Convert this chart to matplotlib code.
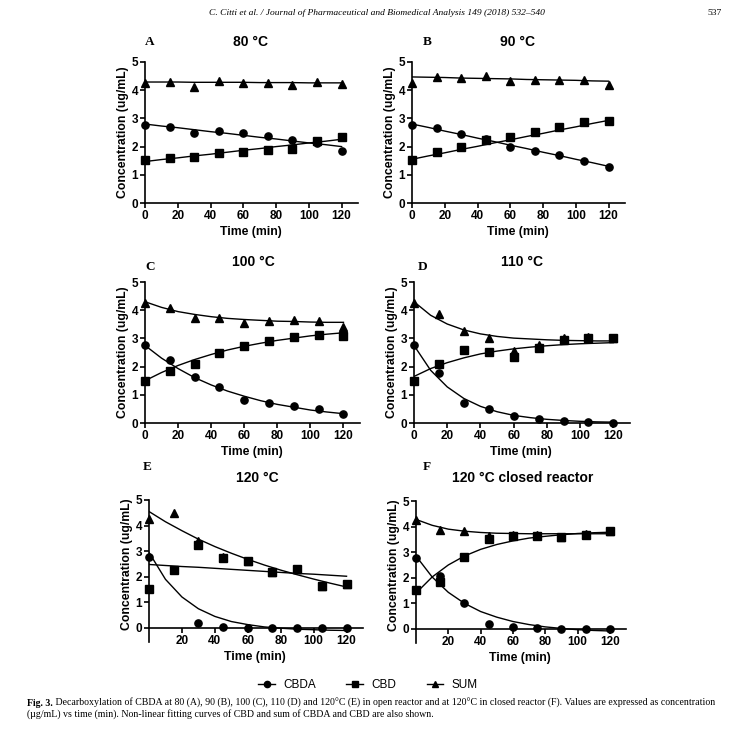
import matplotlib.pyplot as plt
from matplotlib.lines import Line2D

# sampling times (min)
time = [0, 15, 30, 45, 60, 75, 90, 105, 120]
fit_time = [0, 10, 20, 30, 40, 50, 60, 70, 80, 90, 100, 110, 120]

# A - 80 °C
cbda_80 = [2.75, 2.69, 2.49, 2.55, 2.47, 2.36, 2.25, 2.12, 1.86]
cbd_80 = [1.52, 1.60, 1.62, 1.76, 1.82, 1.87, 1.93, 2.20, 2.35]
sum_80 = [4.25, 4.30, 4.10, 4.31, 4.27, 4.25, 4.18, 4.30, 4.22]
cbda_80_fit = [2.80, 2.73, 2.67, 2.60, 2.53, 2.47, 2.40, 2.33, 2.27, 2.20, 2.13, 2.07, 2.00]
cbd_80_fit = [1.47, 1.54, 1.60, 1.67, 1.73, 1.80, 1.87, 1.93, 2.00, 2.06, 2.13, 2.19, 2.26]
sum_80_fit = [4.29, 4.29, 4.29, 4.28, 4.28, 4.28, 4.28, 4.27, 4.27, 4.27, 4.26, 4.26, 4.26]

# B - 90 °C
cbda_90 = [2.76, 2.66, 2.45, 2.28, 2.00, 1.84, 1.69, 1.50, 1.27]
cbd_90 = [1.52, 1.81, 2.00, 2.24, 2.35, 2.52, 2.68, 2.86, 2.91]
sum_90 = [4.25, 4.47, 4.43, 4.50, 4.32, 4.35, 4.35, 4.35, 4.17]
cbda_90_fit = [2.80, 2.68, 2.55, 2.43, 2.30, 2.18, 2.05, 1.93, 1.80, 1.68, 1.55, 1.43, 1.30]
cbd_90_fit = [1.55, 1.67, 1.78, 1.90, 2.01, 2.13, 2.24, 2.36, 2.47, 2.59, 2.70, 2.82, 2.93]
sum_90_fit = [4.47, 4.46, 4.45, 4.43, 4.42, 4.41, 4.40, 4.38, 4.37, 4.36, 4.35, 4.33, 4.32]

# C - 100 °C
cbda_100 = [2.75, 2.24, 1.62, 1.27, 0.82, 0.72, 0.60, 0.48, 0.32]
cbd_100 = [1.50, 1.85, 2.08, 2.47, 2.74, 2.90, 3.04, 3.13, 3.08]
sum_100 = [4.27, 4.08, 3.72, 3.72, 3.55, 3.60, 3.65, 3.62, 3.42]
cbda_100_fit = [2.75, 2.30, 1.93, 1.61, 1.35, 1.13, 0.95, 0.79, 0.66, 0.56, 0.46, 0.39, 0.33]
cbd_100_fit = [1.50, 1.79, 2.04, 2.25, 2.43, 2.59, 2.72, 2.83, 2.93, 3.01, 3.09, 3.15, 3.20]
sum_100_fit = [4.30, 4.10, 3.95, 3.85, 3.77, 3.71, 3.67, 3.64, 3.61, 3.60, 3.58, 3.57, 3.57]

# D - 110 °C
cbda_110 = [2.75, 1.78, 0.72, 0.48, 0.25, 0.15, 0.06, 0.03, 0.00]
cbd_110 = [1.50, 2.10, 2.58, 2.52, 2.33, 2.65, 2.95, 3.03, 3.00]
sum_110 = [4.27, 3.88, 3.28, 3.03, 2.55, 2.78, 3.00, 3.05, 3.00]
cbda_110_fit = [2.75, 1.87, 1.28, 0.87, 0.59, 0.40, 0.27, 0.19, 0.13, 0.09, 0.06, 0.04, 0.03]
cbd_110_fit = [1.65, 1.93, 2.14, 2.31, 2.45, 2.55, 2.63, 2.69, 2.74, 2.78, 2.81, 2.83, 2.85]
sum_110_fit = [4.30, 3.82, 3.51, 3.30, 3.16, 3.07, 3.01, 2.98, 2.95, 2.93, 2.92, 2.91, 2.91]

# E - 120 °C
cbda_120 = [2.78, 2.25, 0.18, 0.03, 0.00, 0.00, 0.00, 0.00, 0.00]
cbd_120 = [1.52, 2.25, 3.25, 2.73, 2.62, 2.17, 2.30, 1.62, 1.70]
sum_120 = [4.27, 4.50, 3.38, 2.76, 2.62, 2.17, 2.30, 1.62, 1.70]
cbda_120_fit = [2.95, 1.90, 1.21, 0.75, 0.45, 0.25, 0.13, 0.04, -0.01, -0.05, -0.07, -0.09, -0.10]
cbd_120_fit = [2.48, 2.44, 2.40, 2.37, 2.33, 2.29, 2.25, 2.21, 2.17, 2.13, 2.10, 2.06, 2.02]
sum_120_fit = [4.55, 4.15, 3.80, 3.47, 3.18, 2.92, 2.68, 2.46, 2.26, 2.08, 1.91, 1.75, 1.60]

# F - 120 °C closed reactor
cbda_120c = [2.78, 2.05, 1.00, 0.18, 0.08, 0.03, 0.00, 0.00, 0.00]
cbd_120c = [1.52, 1.83, 2.83, 3.50, 3.62, 3.65, 3.58, 3.68, 3.83]
sum_120c = [4.27, 3.86, 3.82, 3.65, 3.68, 3.66, 3.60, 3.70, 3.83]
cbda_120c_fit = [2.85, 2.03, 1.43, 1.00, 0.68, 0.46, 0.29, 0.17, 0.08, 0.02, -0.03, -0.06, -0.08]
cbd_120c_fit = [1.40, 2.03, 2.50, 2.85, 3.11, 3.30, 3.44, 3.55, 3.62, 3.68, 3.73, 3.76, 3.78]
sum_120c_fit = [4.28, 4.05, 3.90, 3.82, 3.77, 3.74, 3.73, 3.72, 3.72, 3.72, 3.72, 3.72, 3.72]

W, H = 741, 735
SANS = "Liberation Sans"
SERIF = "Liberation Serif"

# letter, title, (left, top, right, bottom) in px, ymin, letter xy, title xy, series
panels = [
    ("A", "80 °C", (145, 62, 358, 203), 0, (150, 42), (250, 42),
     (cbda_80, cbd_80, sum_80, cbda_80_fit, cbd_80_fit, sum_80_fit)),
    ("B", "90 °C", (412, 62, 625, 203), 0, (427, 42), (517, 42),
     (cbda_90, cbd_90, sum_90, cbda_90_fit, cbd_90_fit, sum_90_fit)),
    ("C", "100 °C", (145, 282, 360, 423), 0, (150, 267), (253, 262),
     (cbda_100, cbd_100, sum_100, cbda_100_fit, cbd_100_fit, sum_100_fit)),
    ("D", "110 °C", (414, 282, 630, 423), 0, (423, 267), (522, 262),
     (cbda_110, cbd_110, sum_110, cbda_110_fit, cbd_110_fit, sum_110_fit)),
    ("E", "120 °C", (149, 500, 363, 642), -0.55, (147, 467), (257, 478),
     (cbda_120, cbd_120, sum_120, cbda_120_fit, cbd_120_fit, sum_120_fit)),
    ("F", "120 °C closed reactor", (416, 501, 626, 643), -0.55, (427, 467), (523, 478),
     (cbda_120c, cbd_120c, sum_120c, cbda_120c_fit, cbd_120c_fit, sum_120c_fit)),
]

fig = plt.figure(figsize=(W / 100, H / 100), dpi=100)
fig.patch.set_facecolor("white")


def fx(x):
    return x / W


def fy(y):
    return 1 - y / H


for letter, title, (l, t, r, b), ymin, lpos, tpos, data in panels:
    cbda, cbd, total, cbda_fit, cbd_fit, total_fit = data
    ax = fig.add_axes([fx(l), fy(b), (r - l) / W, (b - t) / H])
    ax.set_xlim(0, 130)
    ax.set_ylim(ymin, 5)
    for s in ("top", "right"):
        ax.spines[s].set_visible(False)
    for s in ("left", "bottom"):
        ax.spines[s].set_linewidth(1.2)
    if ymin < 0:
        ax.spines["bottom"].set_position(("data", 0))
        ax.set_xticks([20, 40, 60, 80, 100, 120])
    else:
        ax.set_xticks([0, 20, 40, 60, 80, 100, 120])
    ax.set_yticks([0, 1, 2, 3, 4, 5])
    ax.tick_params(width=1.2, length=3.5, pad=1.5, labelsize=8.5)
    for lab in ax.get_xticklabels() + ax.get_yticklabels():
        lab.set_fontfamily(SANS)
        lab.set_fontweight("bold")

    for fit in (cbda_fit, cbd_fit, total_fit):
        ax.plot(fit_time, fit, color="black", lw=1.0, zorder=2)
    ax.plot(time, cbda, "o", color="black", ms=5.2, clip_on=False, zorder=3)
    ax.plot(time, total, "^", color="black", ms=5.2, clip_on=False, zorder=4)
    ax.plot(time, cbd, "s", color="black", ms=5.2, clip_on=False, zorder=5)

    # panel letter, title, axis labels
    fig.text(fx(lpos[0]), fy(lpos[1]), letter, family=SERIF, weight="bold",
             size=9.5, ha="center", va="center")
    fig.text(fx(tpos[0]), fy(tpos[1]), title, family=SANS, weight="bold",
             size=10, ha="center", va="center")
    zero_y = t + (b - t) * 5 / (5 - ymin)
    fig.text(fx(l - 22), fy((t + zero_y) / 2), "Concentration (ug/mL)", family=SANS,
             weight="bold", size=8.8, rotation=90, ha="center", va="center")
    fig.text(fx((l + r) / 2 - 1), fy(zero_y + 29), "Time (min)", family=SANS,
             weight="bold", size=8.8, ha="center", va="center")

# legend
handles = [Line2D([], [], color="black", lw=1.0, marker=m, ms=4.5)
           for m in ("o", "s", "^")]
fig.legend(handles, ["CBDA", "CBD", "SUM"], loc="center", bbox_to_anchor=(fx(368), fy(685)),
           ncol=3, frameon=False, handlelength=1.4, handletextpad=0.7, columnspacing=2.6,
           prop={"family": SANS, "size": 8.5})

# page header
fig.text(fx(377), fy(13), "C. Citti et al. / Journal of Pharmaceutical and Biomedical Analysis 149 (2018) 532\u2013540",
         family=SERIF, style="italic", size=6.8, ha="center", va="center")
fig.text(fx(722), fy(13), "537", family=SERIF, size=6.8, ha="right", va="center")

# caption
cap = fig.text(fx(27), fy(706), "Fig. 3.", family=SERIF, weight="bold", size=7.1,
               ha="left", va="baseline")
fig.add_artist(plt.Annotation(
    " Decarboxylation of CBDA at 80 (A), 90 (B), 100 (C), 110 (D) and 120\u00b0C (E) in open "
    "reactor and at 120\u00b0C in closed reactor (F). Values are expressed as concentration",
    xy=(1, 0), xycoords=cap, va="bottom", ha="left", family=SERIF, size=7.1))
fig.text(fx(27), fy(717), "(\u00b5g/mL) vs time (min). Non-linear fitting curves of CBD and sum of CBDA "
         "and CBD are also shown.", family=SERIF, size=7.1, ha="left", va="baseline")

fig.savefig("out.png", dpi=100)
